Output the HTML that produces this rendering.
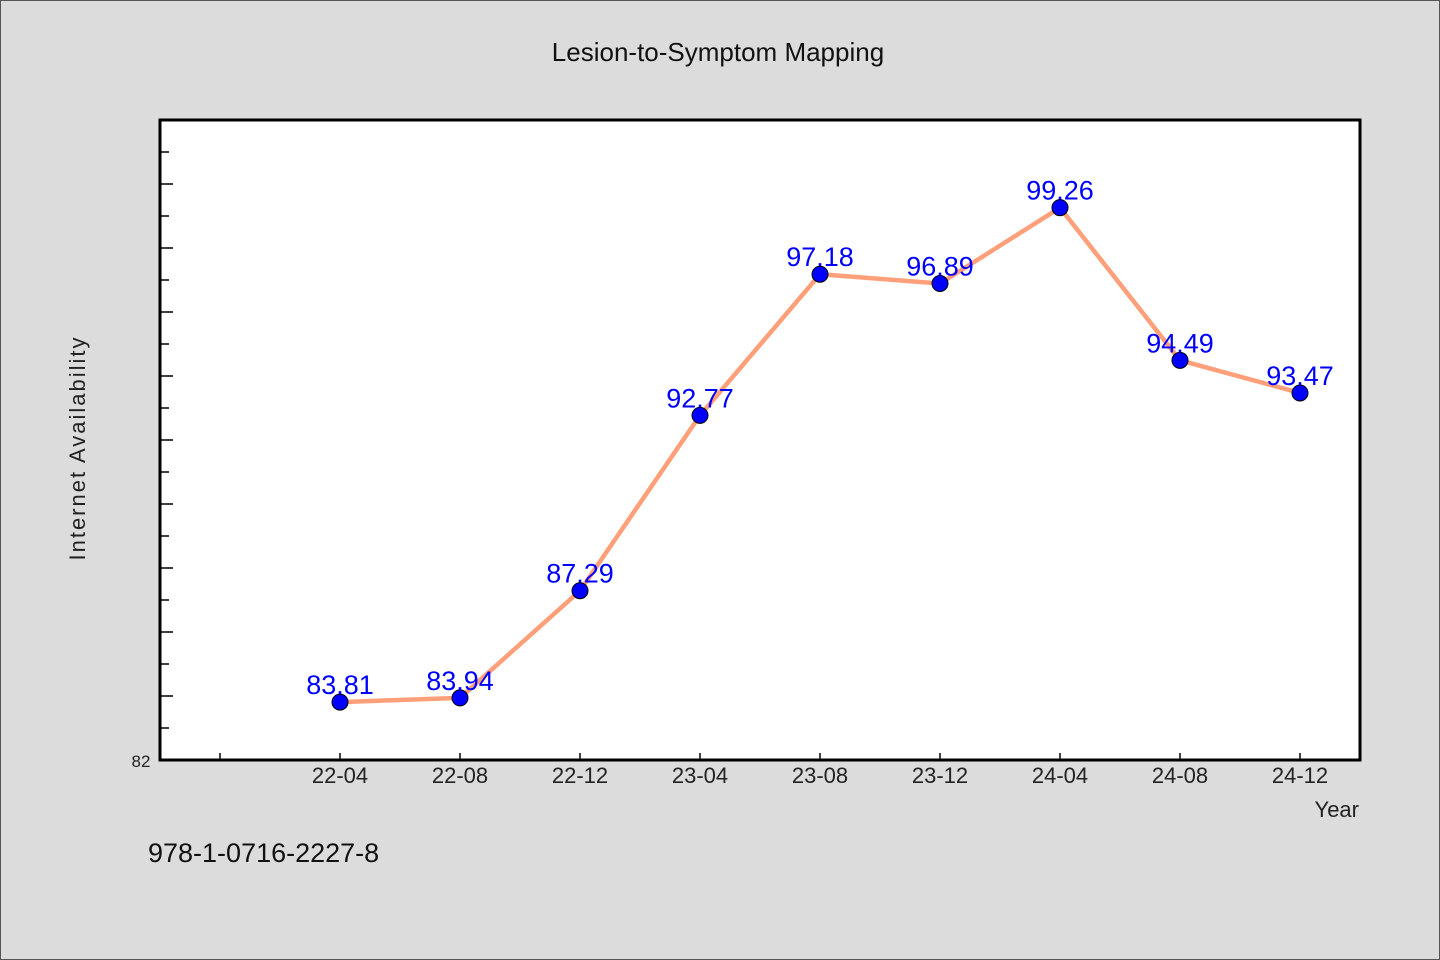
<!DOCTYPE html>
<html><head><meta charset="utf-8"><style>
html,body{margin:0;padding:0;background:#dcdcdc;}
svg{display:block;font-family:"WenQuanYi Zen Hei","Liberation Sans",sans-serif;}
</style></head><body>
<svg id="chart" width="1440" height="960" xmlns="http://www.w3.org/2000/svg">
<rect x="0.5" y="0.5" width="1439" height="959" fill="#dcdcdc" stroke="#555"/>
<text x="718" y="61" font-size="26" text-anchor="middle" fill="#111">Lesion-to-Symptom Mapping</text>
<rect x="160" y="120" width="1200" height="640" fill="#fff"/>
<g id="ticks"></g>
<g id="series"></g>
<rect x="160" y="120" width="1200" height="640" fill="none" stroke="#000" stroke-width="3"/>
<text x="141" y="767" font-size="17" text-anchor="middle" fill="#222">82</text>
<text x="85" y="448" font-size="22" text-anchor="middle" fill="#222" transform="rotate(-90 85 448)" letter-spacing="2">Internet Availability</text>
<text x="1359" y="817" font-size="22" text-anchor="end" fill="#222">Year</text>
<text x="148" y="862" font-size="27" fill="#111">978-1-0716-2227-8</text>
</svg>
<script>
const categories = ["22-04","22-08","22-12","23-04","23-08","23-12","24-04","24-08","24-12"];
const values = [83.81,83.94,87.29,92.77,97.18,96.89,99.26,94.49,93.47];
const valueLabels = ["83.81","83.94","87.29","92.77","97.18","96.89","99.26","94.49","93.47"];
const yMin = 82, yMax = 102;
const NS = "http://www.w3.org/2000/svg";
const x = i => 340 + i * 120;
const y = v => 760 - (v - yMin) / (yMax - yMin) * 640;
function mk(tag, attrs, parent){const e=document.createElementNS(NS,tag);for(const k in attrs)e.setAttribute(k,attrs[k]);parent.appendChild(e);return e;}
const tg = document.getElementById('ticks');
for (let k = 1; k <= 19; k++) {
  const yy = 760 - k * 32;
  const t = mk('line', {x1:160, x2: k%2===0?173:169, y1:yy, y2:yy, stroke:'#000', 'stroke-width':1.5}, tg);
  
  
}
for (let i = -1; i < categories.length; i++) {
  const t = mk('line', {x1:x(i), x2:x(i), y1:760, y2:753, stroke:'#000', 'stroke-width':1.5}, tg);
  
  
  if (i >= 0) {
    const l = mk('text', {x:x(i), y:783, 'font-size':22, 'text-anchor':'middle', fill:'#222'}, tg);
    l.textContent = categories[i];
    
    
  }
}
const sg = document.getElementById('series');
const line = mk('polyline', {points: values.map((v,i)=>x(i)+','+y(v)).join(' '), fill:'none', stroke:'#ffa07a', 'stroke-width':4.5, 'stroke-linejoin':'round'}, sg);


values.forEach((v,i)=>{
  const c = mk('circle', {cx:x(i), cy:y(v), r:8, fill:'#0000ff', stroke:'#000', 'stroke-width':1}, sg);
  
  
});
values.forEach((v,i)=>{
  const t = mk('text', {x:x(i), y:y(v)-8, 'font-size':27, 'text-anchor':'middle', fill:'#0000ff'}, sg);
  t.textContent = valueLabels[i];
  
  
});
</script>
</body></html>
